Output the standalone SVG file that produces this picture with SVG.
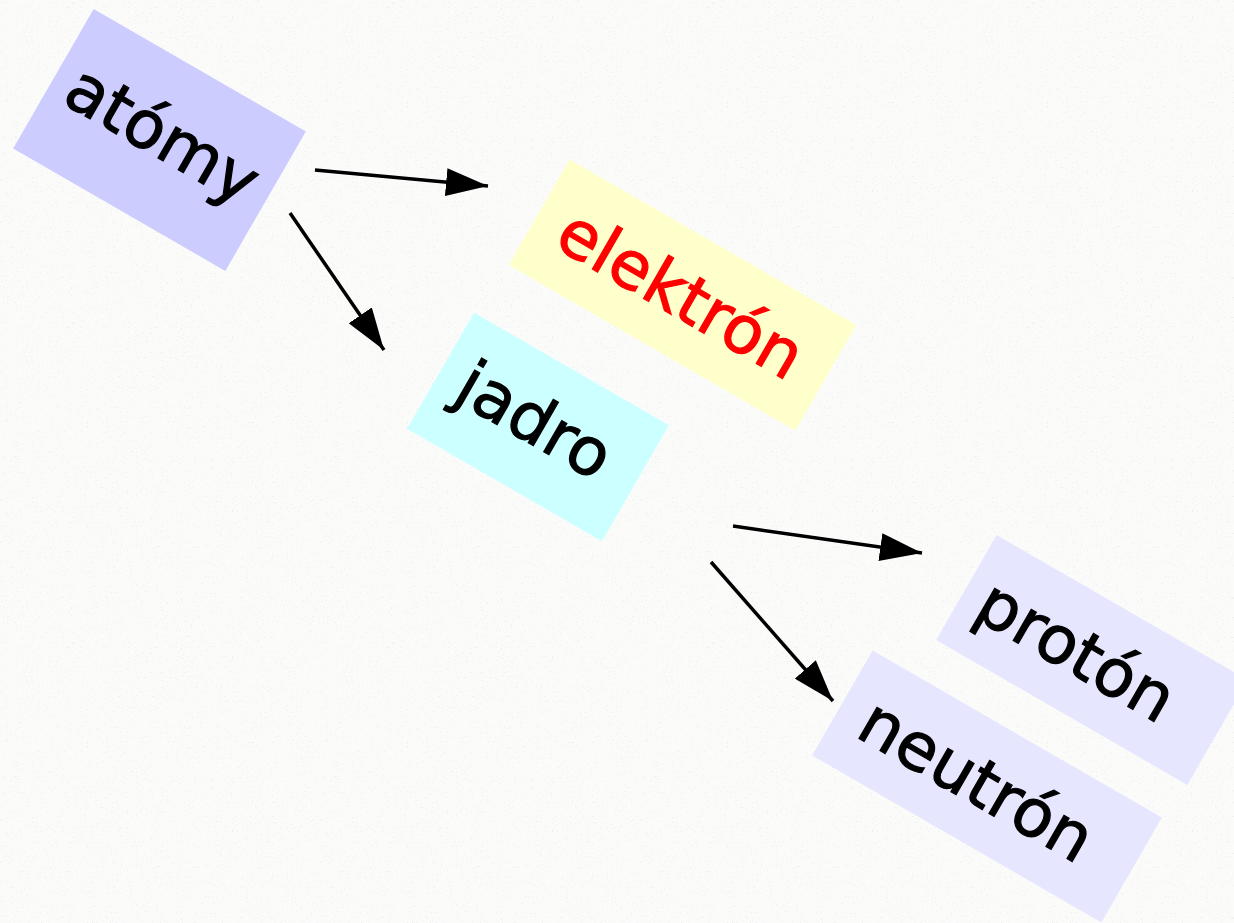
<svg xmlns="http://www.w3.org/2000/svg" width="1234" height="923" viewBox="0 0 1234 923">
<defs>
<filter id="speck" x="0" y="0" width="100%" height="100%">
<feTurbulence type="fractalNoise" baseFrequency="0.8" numOctaves="2" seed="5" result="n"/>
<feColorMatrix in="n" type="matrix" values="0 0 0 0 0.80  0 0 0 0 0.81  0 0 0 0 0.87  10 0 0 0 -6.6" />
</filter>
<marker id="arr" viewBox="0 0 12 8" refX="12" refY="4" markerWidth="12" markerHeight="8" markerUnits="strokeWidth" orient="auto">
<path d="M0,0 L12,4 L0,8 z" fill="#000"/>
</marker>
<style>
.lbl{font-family:"DejaVu Sans","Liberation Sans",sans-serif;font-size:66px;text-anchor:middle;dominant-baseline:central;fill:#000;stroke:#000;stroke-width:1.2}
.edge{stroke:#000;stroke-width:3.5;fill:none;marker-end:url(#arr)}
</style>
</defs>
<rect width="1234" height="923" fill="#fbfbfa"/>
<rect width="1234" height="923" filter="url(#speck)" opacity="0.6"/>
<g id="connectors">
<line class="edge" x1="315" y1="170" x2="488" y2="186"/>
<line class="edge" x1="290" y1="213" x2="384" y2="350"/>
<line class="edge" x1="733" y1="526" x2="922" y2="553"/>
<line class="edge" x1="711" y1="562" x2="833" y2="701"/>
</g>
<g id="atomy" transform="translate(159.5,140) rotate(30)">
<rect x="-122.5" y="-80.5" width="245" height="161" fill="#ccccff"/>
<text class="lbl" x="0" y="-6">atómy</text>
</g>
<g id="elektron" transform="translate(682.5,295) rotate(30)">
<rect x="-165.5" y="-61" width="331" height="122" fill="#ffffcc"/>
<text class="lbl" x="-2" y="0" style="fill:#ff0000;stroke:#ff0000">elektrón</text>
</g>
<g id="jadro" transform="translate(538,427) rotate(30)">
<rect x="-112.5" y="-67" width="225" height="134" fill="#ccffff"/>
<text class="lbl" x="-6" y="-4">jadro</text>
</g>
<g id="proton" transform="translate(1092,660) rotate(30)">
<rect x="-145" y="-60.5" width="290" height="121" fill="#e6e6ff"/>
<text class="lbl" x="-18" y="0">protón</text>
</g>
<g id="neutron" transform="translate(987,786.5) rotate(30)">
<rect x="-167" y="-60.5" width="334" height="121" fill="#e6e6ff"/>
<text class="lbl" x="-12" y="0">neutrón</text>
</g>
</svg>
